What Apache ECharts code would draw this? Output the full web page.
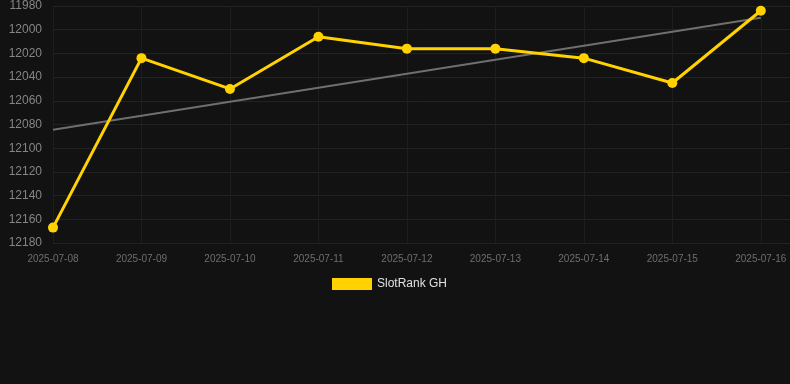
<!DOCTYPE html>
<html>
<head>
<meta charset="utf-8">
<script src="https://cdn.jsdelivr.net/npm/echarts@6/dist/echarts.min.js"></script>
<style>
html, body { margin: 0; padding: 0; background: #121212; }
#rankLine { width: 790px; height: 384px; }
</style>
</head>
<body>
<div id="rankLine"></div>
<script>
// dates on the x axis
var dates = ['2025-07-08', '2025-07-09', '2025-07-10', '2025-07-11', '2025-07-12',
    '2025-07-13', '2025-07-14', '2025-07-15', '2025-07-16'];
// SlotRank GH
var rankValues = [12167, 12024, 12050, 12006, 12016, 12016, 12024, 12045, 11984];
// trend line, first and last day
var trendValues = [12084.5, 11990];

var rankLineobj = document.getElementById('rankLine');
var rankLineChart = echarts.init(rankLineobj);

var rankData = rankValues.map(function (v, i) { return [i, v]; });
var trendData = [[0, trendValues[0]], [dates.length - 1, trendValues[1]]];

var option = {
    backgroundColor: '#121212',
    animation: false,
    legend: {
        left: 332,
        top: 278,
        padding: 0,
        data: ['SlotRank GH'],
        icon: 'rect',
        itemWidth: 40,
        itemHeight: 12,
        itemGap: 10,
        textStyle: {
            color: '#e0e0e0',
            fontSize: 12,
            fontFamily: 'Liberation Sans, Arial, sans-serif',
        },
    },
    grid: {
        top: 6,
        left: 53,
        right: 0,
        bottom: 141,
    },
    xAxis: {
        type: 'value',
        min: 0,
        max: 8.33,
        interval: 1,
        axisLine: { show: false },
        axisTick: { show: false },
        axisLabel: {
            color: '#6e6e6e',
            fontSize: 10,
            margin: 11,
            fontFamily: 'Liberation Sans, Arial, sans-serif',
            showMaxLabel: false,
            formatter: function (v) {
                return Number.isInteger(v) && dates[v] ? dates[v] : '';
            },
        },
        splitLine: {
            show: true,
            lineStyle: { color: '#1e1e1e', width: 1 },
        },
    },
    yAxis: {
        type: 'value',
        inverse: true,
        min: 11980,
        max: 12180,
        interval: 20,
        axisLine: { show: false },
        axisTick: { show: false },
        axisLabel: {
            color: '#858585',
            fontSize: 12,
            margin: 11,
            fontFamily: 'Liberation Sans, Arial, sans-serif',
            formatter: function (v) { return String(v); },
        },
        splitLine: {
            show: true,
            lineStyle: { color: '#222222', width: 1 },
        },
    },
    series: [
        {
            name: 'trend',
            type: 'line',
            data: trendData,
            symbol: 'none',
            silent: true,
            z: 1,
            lineStyle: { color: '#6f6f6f', width: 2 },
        },
        {
            name: 'SlotRank GH',
            type: 'line',
            data: rankData,
            symbol: 'circle',
            symbolSize: 10,
            z: 3,
            itemStyle: { color: '#ffd200' },
            lineStyle: { color: '#ffd200', width: 3 },
        }
    ],
};

rankLineChart.setOption(option);
</script>
</body>
</html>
